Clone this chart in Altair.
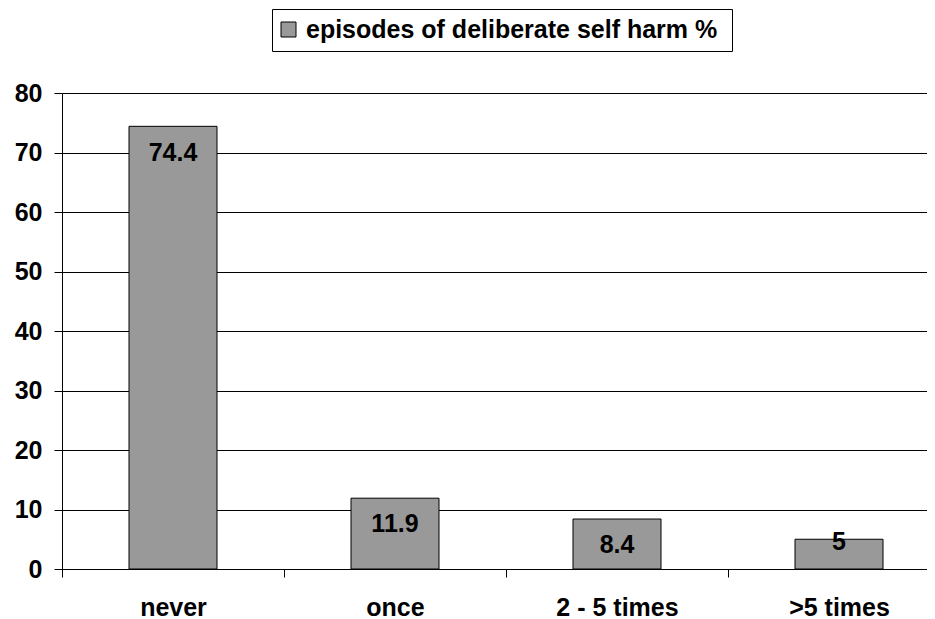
import altair as alt
import pandas as pd

categories = ["never", "once", "2 - 5 times", ">5 times"]
values = [74.4, 11.9, 8.4, 5]
series_name = "episodes of deliberate self harm %"
y_ticks = [0, 10, 20, 30, 40, 50, 60, 70, 80]

df = pd.DataFrame({"category": categories, "value": values, "series": [series_name] * len(categories)})

FONT = "Liberation Sans"
FS = 25

x_enc = alt.X(
    "category:N",
    sort=categories,
    title=None,
    scale=alt.Scale(range=[0, 888], paddingInner=0, paddingOuter=0),
    axis=alt.Axis(
        labelAngle=0, labelFont=FONT, labelFontSize=FS, labelFontWeight="bold",
        labelColor="black", labelBaseline="alphabetic", labelPadding=38,
        tickBand="extent", tickSize=8,
        tickColor="black", domainColor="black", grid=False,
    ),
)

bars = alt.Chart(df).mark_bar(size=88, stroke="black", strokeWidth=1).encode(
    x=x_enc,
    y=alt.Y(
        "value:Q",
        title=None,
        scale=alt.Scale(domain=[0, 80], nice=False),
        axis=alt.Axis(
            values=y_ticks, labelFont=FONT, labelFontSize=FS, labelFontWeight="bold",
            labelColor="black", labelPadding=12, tickSize=8, tickColor="black",
            domainColor="black", grid=True, gridColor="black", gridOpacity=1,
        ),
    ),
    color=alt.Color(
        "series:N",
        scale=alt.Scale(range=["#999999"]),
        legend=alt.Legend(
            title="\u00a0", titleOrient="right", titlePadding=7, titleFontSize=FS,
            orient="none", legendX=210, legendY=-84,
            strokeColor="black", padding=8, symbolType="square", symbolSize=225,
            symbolOffset=-4,
            symbolStrokeColor="black", symbolStrokeWidth=1, symbolOpacity=1,
            labelFont=FONT, labelFontSize=FS, labelFontWeight="bold",
            labelColor="black", labelOffset=5, labelLimit=800,
        ),
    ),
)

labels = alt.Chart(df).transform_calculate(
    ly="datum.value < 6 ? datum.value - 0.5 : datum.value - 4.4"
).mark_text(font=FONT, fontSize=FS, fontWeight="bold", color="black", baseline="middle").encode(
    x=alt.X("category:N", sort=categories),
    y=alt.Y("ly:Q"),
    text=alt.Text("value:Q"),
)

chart = alt.layer(bars, labels).properties(
    width=865, height=476,
    padding={"left": 54, "top": 85, "right": 0, "bottom": 52},
    autosize=alt.AutoSizeParams(type="none"),
).configure_view(stroke=None).configure(background="white")

chart.save("out.html", embed_options={"renderer": "svg", "actions": False})
